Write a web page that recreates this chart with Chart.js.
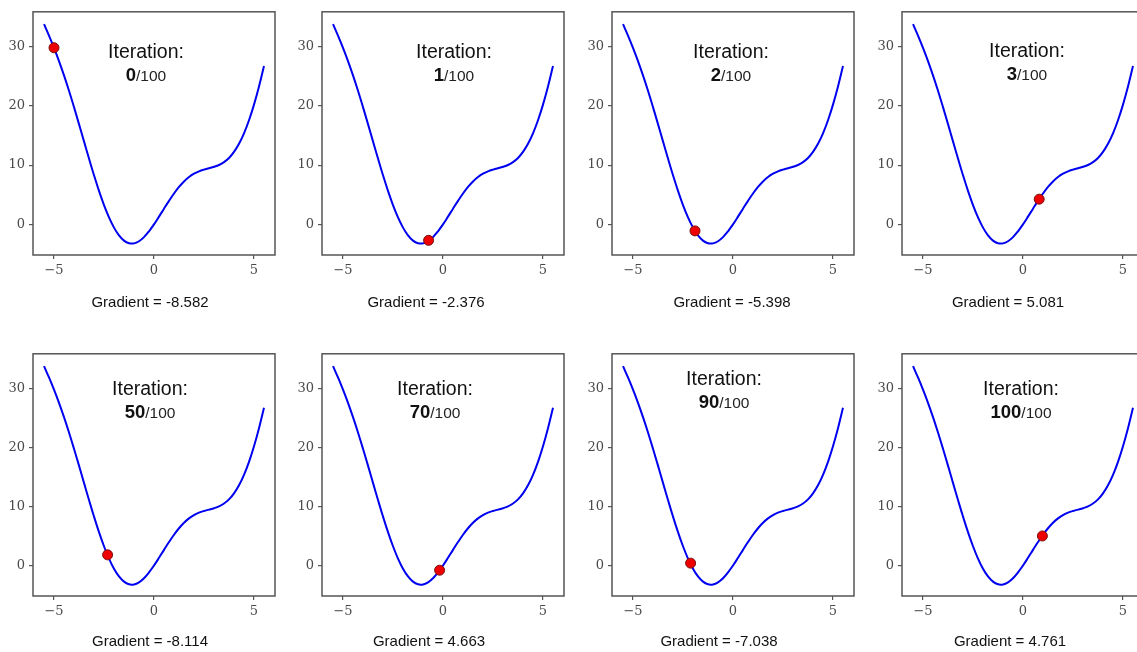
<!DOCTYPE html>
<html>
<head>
<meta charset="utf-8">
<script src="https://cdn.jsdelivr.net/npm/chart.js@4/dist/chart.umd.min.js"></script>
<style>
  html, body { margin: 0; padding: 0; background: #fff; overflow: hidden; width: 1137px; height: 652px; }
  canvas { position: absolute; }
</style>
</head>
<body>
<script>
// Loss curve f(x) sampled along x
const curveX = [-5.5, -5.25, -5.0, -4.75, -4.5, -4.25, -4.0, -3.75, -3.5, -3.25, -3.0, -2.75, -2.5, -2.25,
                -2.0, -1.75, -1.5, -1.25, -1.0, -0.75, -0.5, -0.25, 0.0, 0.25, 0.5, 0.75, 1.0, 1.25, 1.5,
                1.75, 2.0, 2.25, 2.5, 2.75, 3.0, 3.25, 3.5, 3.75, 4.0, 4.25, 4.5, 4.75, 5.0, 5.25, 5.5];
const curveY = [33.78, 31.86, 29.79, 27.56, 25.14, 22.54, 19.78, 16.92, 14.0, 11.1, 8.29, 5.65, 3.26, 1.17,
                -0.55, -1.86, -2.74, -3.18, -3.21, -2.85, -2.15, -1.17, 0.0, 1.3, 2.65, 3.97, 5.21, 6.31, 7.24,
                7.98, 8.55, 8.95, 9.24, 9.47, 9.71, 10.02, 10.5, 11.2, 12.22, 13.59, 15.36, 17.57, 20.21, 23.27, 26.72];

// Snapshots of the descent: iteration number, current position and gradient
const iterations = [0, 1, 2, 3, 50, 70, 90, 100];
const totalIterations = 100;
const pointX = [-5.0, -0.72, -1.9, 0.81, -2.32, -0.17, -2.12, 0.97];
const pointY = [29.8, -2.7, -1.1, 4.25, 1.8, -0.8, 0.4, 5.0];
const gradients = [-8.582, -2.376, -5.398, 5.081, -8.114, 4.663, -7.038, 4.761];

const xTicks = [-5, 0, 5];
const yTicks = [0, 10, 20, 30];

// Panel grid geometry
const colLeft = [33, 322, 612, 902];
const rowTop = [7, 349];
const plotW = 242;
const plotH = [248, 247];
const yAxisW = 36;
const padTop = 7;
const padRight = 12;
const bottomH = 62;

// Per-panel text placement: title centre shift, title baseline, gradient centre shift, gradient baseline
const textPlace = [
  { tdx: -8, tb: 46, gdx: -4,  gb: 51.5 },
  { tdx: 11, tb: 46, gdx: -17, gb: 51.5 },
  { tdx: -2, tb: 46, gdx: -1,  gb: 51.5 },
  { tdx: 4,  tb: 45, gdx: -15, gb: 51.5 },
  { tdx: -4, tb: 41, gdx: -4,  gb: 49.5 },
  { tdx: -8, tb: 41, gdx: -14, gb: 49.5 },
  { tdx: -9, tb: 31, gdx: -14, gb: 49.5 },
  { tdx: -2, tb: 41, gdx: -13, gb: 49.5 }
];

const SANS = '"Liberation Sans", Arial, sans-serif';
const SERIF = '"DejaVu Serif", serif';

const fmtTick = v => (v < 0 ? '\u2212' + Math.abs(v) : String(v));

// Full box around the plotting area
const framePlugin = {
  id: 'frame',
  afterDatasetsDraw(chart) {
    const { ctx, chartArea: a } = chart;
    ctx.save();
    ctx.strokeStyle = '#555';
    ctx.lineWidth = 1.5;
    ctx.strokeRect(a.left, a.top, a.right - a.left, a.bottom - a.top);
    ctx.restore();
  }
};

// "Iteration: n/100" inside the plot and "Gradient = g" below it
const panelTextPlugin = {
  id: 'panelText',
  afterDraw(chart, args, opts) {
    const { ctx, chartArea: a } = chart;
    const cx = (a.left + a.right) / 2;
    ctx.save();
    ctx.fillStyle = '#111';
    ctx.textBaseline = 'alphabetic';

    ctx.textAlign = 'center';
    ctx.font = '19.5px ' + SANS;
    const tx = cx + opts.tdx;
    ctx.fillText('Iteration:', tx, a.top + opts.tb);

    const boldFont = 'bold 18.5px ' + SANS;
    const normFont = '15.5px ' + SANS;
    const num = String(opts.iter);
    const rest = '/' + opts.total;
    ctx.font = boldFont;
    const w1 = ctx.measureText(num).width;
    ctx.font = normFont;
    const w2 = ctx.measureText(rest).width;
    const startX = tx - (w1 + w2) / 2;
    const b2 = a.top + opts.tb + 23;
    ctx.textAlign = 'left';
    ctx.font = boldFont;
    ctx.fillText(num, startX, b2);
    ctx.font = normFont;
    ctx.fillStyle = '#222';
    ctx.fillText(rest, startX + w1, b2);

    ctx.textAlign = 'center';
    ctx.font = '15px ' + SANS;
    ctx.fillStyle = '#111';
    ctx.fillText('Gradient = ' + opts.grad.toFixed(3), cx + opts.gdx, a.bottom + opts.gb);
    ctx.restore();
  }
};

const curveData = curveX.map((x, i) => ({ x: x, y: curveY[i] }));

iterations.forEach((iter, i) => {
  const row = Math.floor(i / 4);
  const col = i % 4;
  const W = yAxisW + plotW + padRight;
  const H = padTop + plotH[row] + bottomH;
  const canvas = document.createElement('canvas');
  canvas.width = W;
  canvas.height = H;
  canvas.style.width = W + 'px';
  canvas.style.height = H + 'px';
  canvas.style.left = (colLeft[col] - yAxisW) + 'px';
  canvas.style.top = (rowTop[row] - padTop) + 'px';
  document.body.appendChild(canvas);

  const tickGrid = { drawOnChartArea: false, drawTicks: true, tickLength: 4, color: '#555', lineWidth: 1.2 };
  const tickFont = { family: SERIF, size: 13 };

  new Chart(canvas, {
    type: 'scatter',
    data: {
      datasets: [
        {
          type: 'line',
          data: curveData,
          borderColor: '#0000f0',
          borderWidth: 2,
          pointRadius: 0,
          tension: 0.4,
          fill: false,
          order: 2
        },
        {
          type: 'scatter',
          data: [{ x: pointX[i], y: pointY[i] }],
          pointRadius: 5,
          backgroundColor: '#ee0000',
          borderColor: '#7a1010',
          borderWidth: 1,
          order: 1
        }
      ]
    },
    options: {
      responsive: false,
      animation: false,
      events: [],
      layout: { padding: { left: 0, top: padTop, right: padRight, bottom: 0 } },
      plugins: {
        legend: { display: false },
        tooltip: { enabled: false },
        panelText: {
          iter: iter, total: totalIterations, grad: gradients[i],
          tdx: textPlace[i].tdx, tb: textPlace[i].tb, gdx: textPlace[i].gdx, gb: textPlace[i].gb
        }
      },
      scales: {
        x: {
          type: 'linear',
          min: -6.05,
          max: 6.05,
          afterFit(s) { s.height = bottomH; },
          afterBuildTicks(s) { s.ticks = xTicks.map(v => ({ value: v })); },
          grid: tickGrid,
          border: { display: false },
          ticks: { font: tickFont, color: '#4a4a4a', padding: 4, maxRotation: 0, autoSkip: false, callback: fmtTick }
        },
        y: {
          type: 'linear',
          min: -5.17,
          max: 35.87,
          afterFit(s) { s.width = yAxisW; },
          afterBuildTicks(s) { s.ticks = yTicks.map(v => ({ value: v })); },
          grid: tickGrid,
          border: { display: false },
          ticks: { font: tickFont, color: '#4a4a4a', padding: 4, autoSkip: false, callback: fmtTick }
        }
      }
    },
    plugins: [framePlugin, panelTextPlugin]
  });
});
</script>
</body>
</html>
